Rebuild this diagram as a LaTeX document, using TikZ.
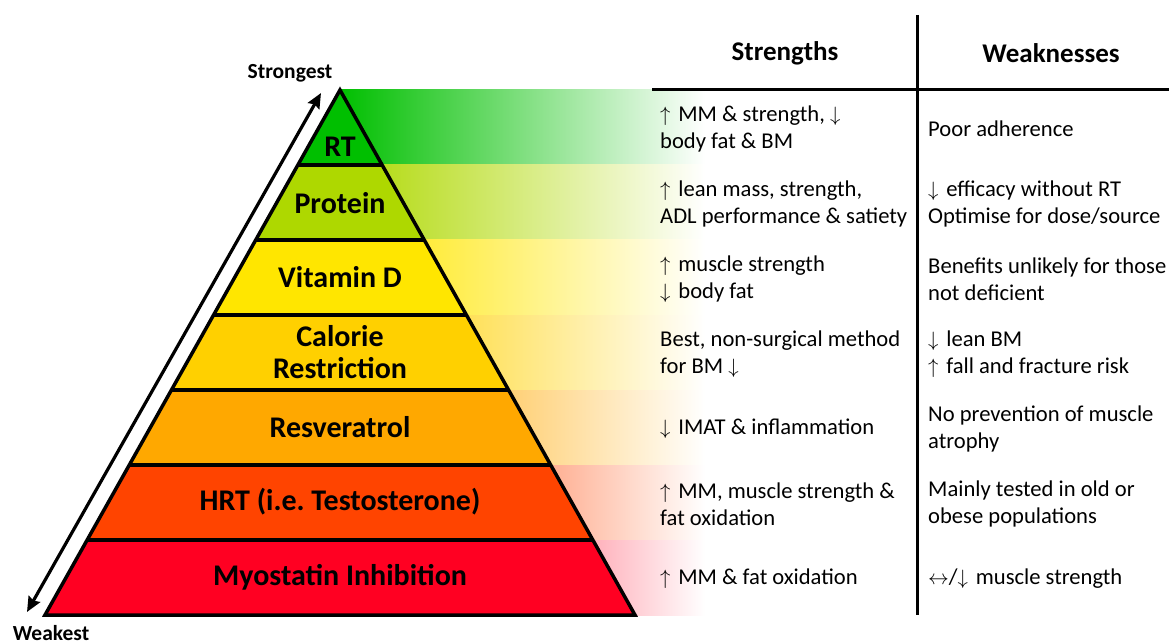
\documentclass[tikz,border=0pt]{standalone}
\usepackage{fontspec}
\setmainfont{Carlito}
\usetikzlibrary{calc,arrows.meta}
\frenchspacing
\definecolor{cRT}{HTML}{00BF00}
\definecolor{cPR}{HTML}{AED800}
\definecolor{cVD}{HTML}{FFE600}
\definecolor{cCR}{HTML}{FFD000}
\definecolor{cRV}{HTML}{FFA800}
\definecolor{cHR}{HTML}{FF4400}
\definecolor{cMY}{HTML}{FF0022}
\newcommand{\up}{$\uparrow$\hspace{0.12em}}
\newcommand{\dn}{$\downarrow$\hspace{0.12em}}
\newcommand{\upe}{$\uparrow$}
\newcommand{\dne}{$\downarrow$}
\newcommand{\lr}{$\leftrightarrow$}
\begin{document}
\begin{tikzpicture}[x=1pt,y=-1pt,
  sep/.style={draw=black,line width=3.5pt},
  plab/.style={font=\bfseries\fontsize{30}{32}\selectfont,align=center,inner sep=0pt},
  cell/.style={anchor=west,align=left,font=\fontsize{22.6}{27.5}\selectfont,inner sep=0pt},
  head/.style={font=\bfseries\fontsize{27}{30}\selectfont,inner sep=0pt},
  endlab/.style={font=\bfseries\fontsize{21.5}{24}\selectfont,inner sep=0pt},
  rule/.style={draw=black,line width=3pt}]
\useasboundingbox (0,0) rectangle (1169,644);
\coordinate (A) at (340,90);
\coordinate (L) at (45,615);
\coordinate (R) at (635,615);
% gradient bands
\foreach \i/\c in {0/cRT,1/cPR,2/cVD,3/cCR,4/cRV,5/cHR,6/cMY}{
  \shade[left color=\c,right color=white] (340,{90+75*\i}) rectangle (705,{165+75*\i});
}
% pyramid layers
\foreach \i/\c in {0/cRT,1/cPR,2/cVD,3/cCR,4/cRV,5/cHR,6/cMY}{
  \pgfmathsetmacro\ta{\i/7}
  \pgfmathsetmacro\tb{(\i+1)/7}
  \fill[\c] ($(A)!\ta!(L)$) -- ($(A)!\tb!(L)$) -- ($(A)!\tb!(R)$) -- ($(A)!\ta!(R)$) -- cycle;
}
\foreach \i in {1,...,6}{
  \pgfmathsetmacro\ta{\i/7}
  \draw[sep] ($(A)!\ta!(L)$) -- ($(A)!\ta!(R)$);
}
\draw[sep,line join=miter] (A) -- (L) -- (R) -- cycle;
% pyramid labels
\node[plab] (rt) at (340,147) {RT};
\node[plab] (pr) at (340,203) {Protein};
\node[plab] (vd) at (340,277) {Vitamin D};
\node[plab] (cr) at (340,352) {Calorie\\Restriction};
\node[plab] (rv) at (340,427) {Resveratrol};
\node[plab] (hr) at (340,502) {HRT (i.e. Testosterone)};
\node[plab] (my) at (340,577) {Myostatin Inhibition};
% strength arrow
\coordinate (wk) at (27,612);
\coordinate (st) at (321,93);
\draw[line width=3.2pt,{Stealth[length=15pt,width=13pt,inset=2pt]}-{Stealth[length=15pt,width=13pt,inset=2pt]}] (wk) -- (st);
\node[endlab] (stl) at (290,73) {Strongest};
\node[endlab] (wkl) at (51,633) {Weakest};
% table
\coordinate (vt) at (917,15);
\coordinate (vb) at (917,615);
\coordinate (hl) at (652,90);
\coordinate (hr2) at (1169,90);
\draw[rule] (vt) -- (vb);
\draw[rule] (hl) -- (hr2);
\node[head] (hs) at (785,53) {Strengths};
\node[head] (hw) at (1051,53) {Weaknesses};
\node[cell] (s1) at (660,129) {\up{} MM \& strength, \dne\\body fat \& BM};
\node[cell] (w1) at (928,129) {Poor adherence};
\node[cell] (s2) at (660,204) {\up{} lean mass, strength,\\ADL performance \& satiety};
\node[cell] (w2) at (928,204) {\dn{} efficacy without RT\\Optimise for dose/source};
\node[cell] (s3) at (660,279) {\up{} muscle strength\\\dn{} body fat};
\node[cell] (w3) at (928,279) {Benefits unlikely for those\\not deficient};
\node[cell] (s4) at (660,354) {Best, non-surgical method\\for BM \dne};
\node[cell] (w4) at (928,354) {\dn{} lean BM\\\up{} fall and fracture risk};
\node[cell] (s5) at (660,429) {\dn{} IMAT \& inflammation};
\node[cell] (w5) at (928,429) {No prevention of muscle\\atrophy};
\node[cell] (s6) at (660,504) {\up{} MM, muscle strength \&\\fat oxidation};
\node[cell] (w6) at (928,504) {Mainly tested in old or\\obese populations};
\node[cell] (s7) at (660,579) {\up{} MM \& fat oxidation};
\node[cell] (w7) at (928,579) {\lr/\dn{} muscle strength};
\end{tikzpicture}
\end{document}
